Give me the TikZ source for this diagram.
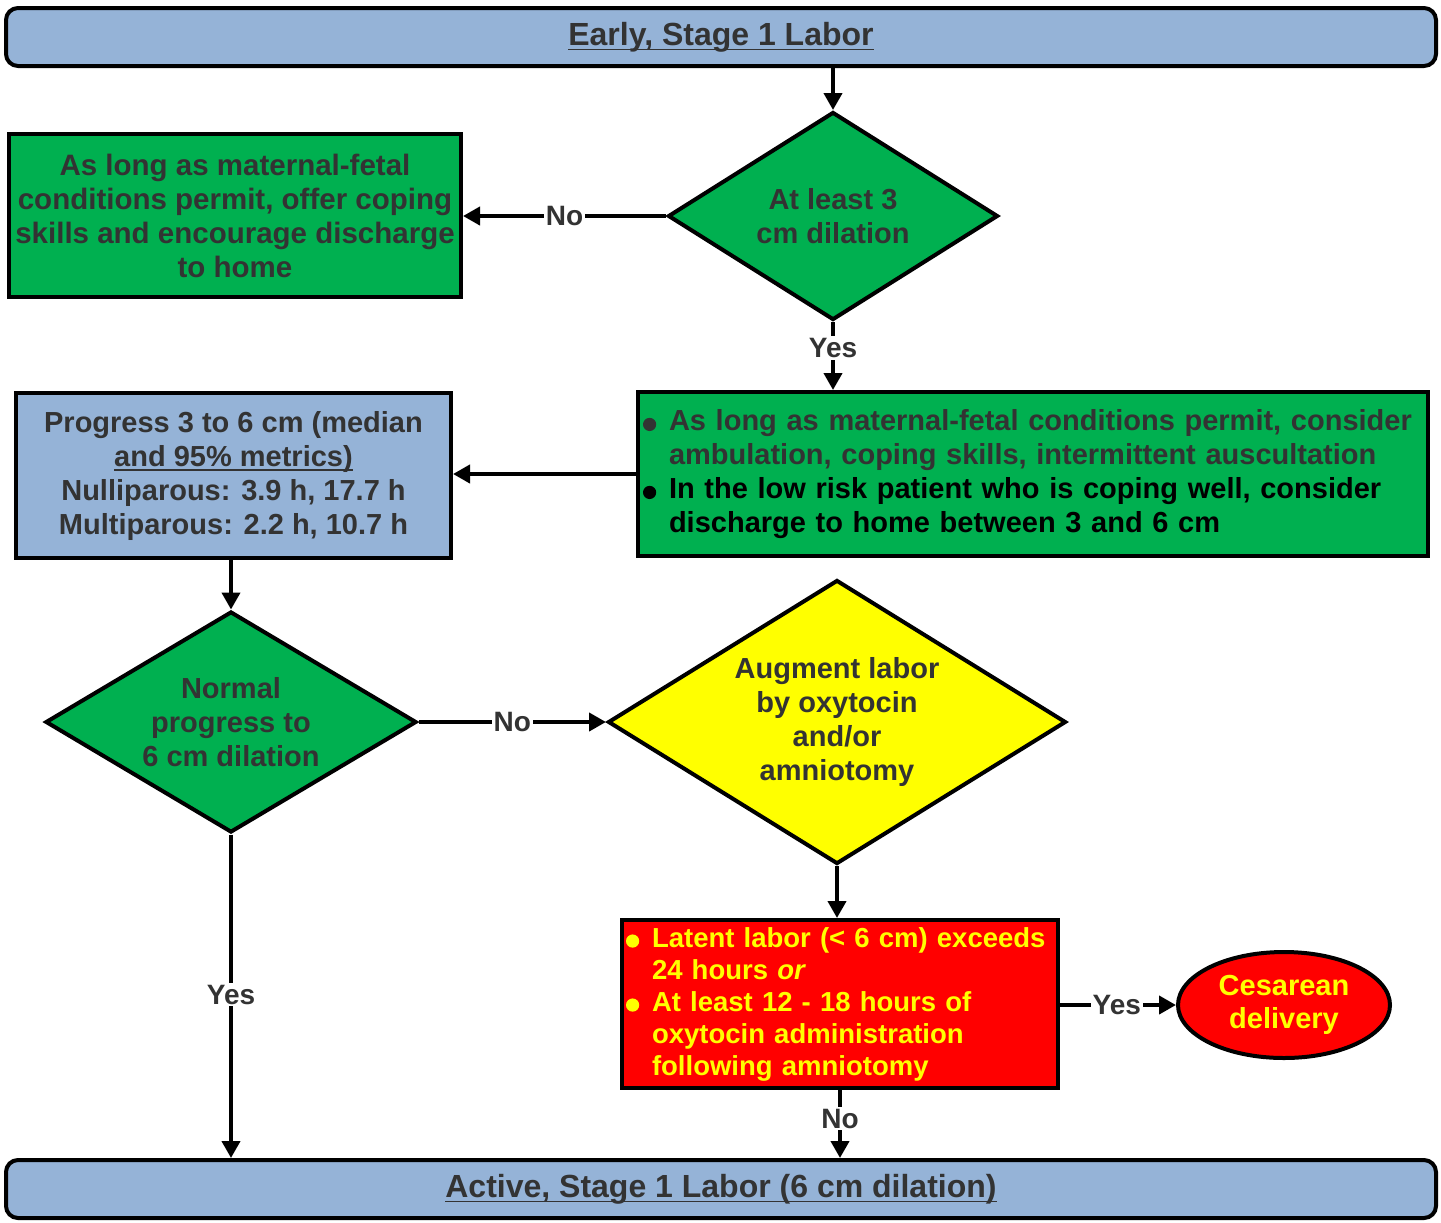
\documentclass[tikz,border=0pt]{standalone}
\usepackage{fontspec}
\setmainfont{Liberation Sans}
\usetikzlibrary{arrows.meta}
\usetikzlibrary{shapes.geometric,positioning}
\tikzset{>={Triangle[width=9pt,length=8.5pt]}}
\definecolor{stageBlue}{HTML}{95B3D7}
\definecolor{okGreen}{HTML}{00B050}
\definecolor{warnYellow}{HTML}{FFFF00}
\definecolor{alarmRed}{HTML}{FF0000}
\colorlet{penGray}{black!80}
\newcommand{\uline}[1]{\setbox0\hbox{#1}\leavevmode\rlap{\rule[-2.5pt]{\wd0}{0.8pt}}\box0}
\newcommand{\bul}[1]{\makebox[13pt][l]{\tikz[baseline=-3pt]\fill[#1] (0,0) circle [radius=3.3pt];}}% round bullet
\newcommand{\ind}{\hspace*{13pt}}
\tikzset{
	base/.style={draw=black,line width=2pt,text=penGray,align=center,inner sep=0pt,
		font=\fontsize{14.5}{17}\selectfont\bfseries},
	stagebox/.style={base,rounded corners=6pt,fill=stageBlue,minimum width=715pt,minimum height=29pt,
		font=\fontsize{16}{19}\selectfont\bfseries},
	greenbox/.style={base,rectangle,fill=okGreen},
	bluebox/.style={base,rectangle,fill=stageBlue},
	decision/.style={base,diamond},
	redbox/.style={base,rectangle,fill=alarmRed,text=warnYellow,
		font=\fontsize{13.75}{16}\selectfont\bfseries},
	lab/.style={fill=white,inner sep=1pt,text=penGray,font=\fontsize{14}{16}\selectfont\bfseries},
	arr/.style={->,line width=2pt}
}
\begin{document}
\begin{tikzpicture}[x=0.5pt,y=-0.5pt]
	\useasboundingbox (0,0) rectangle (1441,1222);
	% stages
	\node[stagebox] (early) at (721,37) {\uline{Early, Stage 1 Labor}};
	\node[stagebox] (active) at (721,1189) {\uline{Active, Stage 1 Labor (6 cm dilation)}};
	% first decision
	\node[decision,fill=okGreen,minimum width=165pt,minimum height=104pt,aspect=1.59] (atleast) at (833,216) {At least 3\\cm dilation};
	\node[greenbox,minimum width=226pt,minimum height=81.5pt,font=\fontsize{14.75}{17}\selectfont\bfseries] (home) at (235,215.5)
		{As long as maternal-fetal\\conditions permit, offer coping\\skills and encourage discharge\\to home};
	\node[greenbox,minimum height=82pt,text width=390pt,inner xsep=2.5pt,align=left] (consider) at (1033,474)
		{\bul{penGray}As long as maternal-fetal conditions permit, consider\\
		\ind ambulation, coping skills, intermittent auscultation\\
		\textcolor{black}{\bul{black}In the low risk patient who is coping well, consider}\\
		\textcolor{black}{\ind discharge to home between 3 and 6 cm}};
	\node[bluebox,minimum width=217.5pt,minimum height=82.5pt] (metrics) at (233.5,475.5)
		{Progress 3 to 6 cm (median\\\uline{and 95\% metrics)}\\Nulliparous: 3.9 h, 17.7 h\\Multiparous: 2.2 h, 10.7 h};
	% second decision
	\node[decision,fill=okGreen,minimum width=185.5pt,minimum height=110.5pt,aspect=1.68] (normal) at (231,722)
		{Normal\\progress to\\6 cm dilation};
	\node[decision,fill=warnYellow,minimum width=229pt,minimum height=142pt,aspect=1.61] (augment) at (837,722)
		{Augment labor\\by oxytocin\\and/or\\amniotomy};
	\node[redbox,minimum height=84pt,text width=214pt,inner xsep=2pt,align=left] (exceeds) at (840,1004)
		{\bul{warnYellow}Latent labor (< 6 cm) exceeds\\
		\ind 24 hours \textit{or}\\
		\bul{warnYellow}At least 12 - 18 hours of\\
		\ind oxytocin administration\\
		\ind following amniotomy};
	\node[base,ellipse,fill=alarmRed,text=warnYellow,minimum width=106pt,minimum height=53pt,
		font=\fontsize{14.5}{16.5}\selectfont\bfseries] (cesarean) at (1284,1005) {Cesarean\\delivery};
	% connectors
	\draw[arr] (early.south -| atleast) -- (atleast.north);
	\draw[arr] (atleast.west) -- node[lab,pos=.5] {No} (atleast -| home.east);
	\draw[arr] (atleast.south) -- node[lab,pos=.38] {Yes} (consider.north -| atleast);
	\draw[arr] (consider.west) -- (consider -| metrics.east);
	\draw[arr] (metrics.south -| normal) -- (normal.north);
	\draw[arr] (normal.east) -- node[lab,pos=.5] {No} (augment.west);
	\draw[arr] (augment.south) -- (augment.south |- exceeds.north);
	\draw[arr] (exceeds.east |- cesarean) -- node[lab,pos=.49] {Yes} (cesarean.west);
	\draw[arr] (exceeds.south) -- node[lab,pos=.42] {No} (exceeds.south |- active.north);
	\draw[arr] (normal.south) -- node[lab,pos=.495] {Yes} (normal.south |- active.north);
\end{tikzpicture}
\end{document}
